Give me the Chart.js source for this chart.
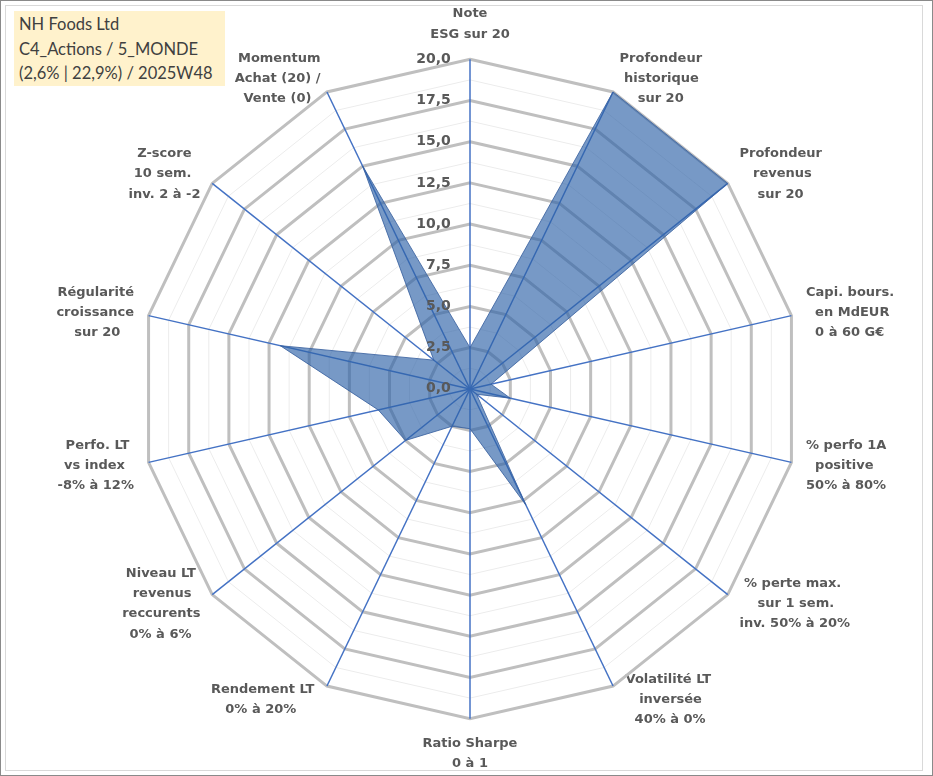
<!DOCTYPE html>
<html lang="fr">
<head>
    <meta charset="UTF-8">
    <title>NH Foods Ltd - radar</title>
    <style>
        * {
            margin: 0;
            padding: 0;
            box-sizing: border-box;
        }

        body {
            background-color: #fff;
            width: 933px;
            height: 776px;
            overflow: hidden;
        }

        .frame {
            position: relative;
            width: 933px;
            height: 776px;
            border: 1px solid #8a8a8a;
            background-color: #fff;
        }

        .inner {
            position: absolute;
            left: 4px;
            top: 4px;
            right: 9px;
            bottom: 4px;
            border: 1px solid #d9d9d9;
        }

        .chart-box {
            position: absolute;
            left: 0;
            top: 0;
            width: 931px;
            height: 774px;
        }

        .info {
            position: absolute;
            left: 13px;
            top: 10px;
            width: 211px;
            height: 75px;
            padding: 1px 0 0 5px;
            background-color: #fff2cc;
            color: #404040;
            font-family: 'Lato', sans-serif;
            font-size: 16.5px;
            line-height: 24.5px;
            white-space: nowrap;
        }
    </style>
</head>
<body>

    <div class="frame">
        <div class="inner"></div>
        <div class="chart-box">
            <canvas id="radarChart"></canvas>
        </div>
        <div class="info">
            NH Foods Ltd<br>
            C4_Actions / 5_MONDE<br>
            (2,6% | 22,9%) / 2025W48
        </div>
    </div>

    <script src="https://cdn.jsdelivr.net/npm/chart.js"></script>
    <script>
        // axes du radar, dans le sens horaire depuis le haut
        const axisLabels = [
            ['Note', 'ESG sur 20'],
            ['Profondeur', 'historique', 'sur 20'],
            ['Profondeur', 'revenus', 'sur 20'],
            ['Capi. bours.', 'en MdEUR', '0 à 60 G€'],
            ['% perfo 1A', 'positive', '50% à 80%'],
            ['% perte max.', 'sur 1 sem.', 'inv. 50% à 20%'],
            ['Volatilité LT', 'inversée', '40% à 0%'],
            ['Ratio Sharpe', '0 à 1'],
            ['Rendement LT', '0% à 20%'],
            ['Niveau LT', 'revenus', 'reccurents', '0% à 6%'],
            ['Perfo. LT', 'vs index', '-8% à 12%'],
            ['Régularité', 'croissance', 'sur 20'],
            ['Z-score', '10 sem.', 'inv. 2 à -2'],
            ['Momentum', 'Achat (20) /', 'Vente (0)']
        ];

        // notes sur 20
        const scores = [2.5, 20, 20, 1.3, 2.5, 0.5, 7.8, 2.4, 2.5, 5.0, 5.7, 11.8, 2.8, 15.0];

        // graduations
        const scaleMax = 20;
        const majorStep = 2.5;
        const minorStep = 1.25;

        const labelFont = { family: 'DejaVu Sans', size: 13, weight: 'bold', lineHeight: 1.55 };

        function isMajor(v) {
            return Math.abs(v / majorStep - Math.round(v / majorStep)) < 1e-6;
        }

        function tickText(v) {
            if (!isMajor(v)) return '';
            const txt = v.toFixed(1).replace('.', ',');
            // décale le libellé à gauche de l'axe vertical
            const pad = v >= 10 ? 15 : 13;
            return txt + ' '.repeat(pad);
        }

        // Chart.js aligne les lignes à gauche/droite : on les recentre avec des espaces
        function centeredLabels(list) {
            const m = document.createElement('canvas').getContext('2d');
            m.font = 'bold 13px "DejaVu Sans"';
            const sp = m.measureText(' ').width;
            const half = list.length / 2;
            return list.map((lines, i) => {
                if (i === 0 || i === half) return lines;
                const widths = lines.map(l => m.measureText(l).width);
                const maxW = Math.max(...widths);
                return lines.map((l, k) => {
                    const n = Math.round((maxW - widths[k]) / 2 / sp);
                    return i < half ? ' '.repeat(n) + l : l + ' '.repeat(n);
                });
            });
        }

        // libellés latéraux centrés verticalement sur l'extrémité de l'axe, comme Excel
        const labelCentering = {
            id: 'labelCentering',
            afterUpdate(chart) {
                const r = chart.scales.r;
                const items = r._pointLabelItems || [];
                const n = items.length;
                const half = n / 2;
                items.forEach((it, i) => {
                    if (i === 0 || i === half) return;
                    const h = it.bottom - it.top;
                    const dy = (i < 4 || i > n - 4) ? h / 2 : -h / 2;
                    it.y += dy;
                    it.top += dy;
                    it.bottom += dy;
                    // les deux libellés proches du bas s'écartent un peu de la pointe
                    if (i === half - 1 || i === half + 1) {
                        const dx = i < half ? 6 : -6;
                        it.x += dx;
                        it.left += dx;
                        it.right += dx;
                    }
                });
            }
        };

        const ctx = document.getElementById('radarChart').getContext('2d');
        new Chart(ctx, {
            type: 'radar',
            data: {
                labels: centeredLabels(axisLabels),
                datasets: [{
                    data: scores,
                    fill: true,
                    backgroundColor: 'rgba(46, 98, 168, 0.65)',
                    borderColor: 'rgba(58, 98, 160, 0.85)',
                    borderWidth: 1,
                    pointRadius: 0,
                    pointHoverRadius: 0,
                    tension: 0
                }]
            },
            options: {
                responsive: true,
                maintainAspectRatio: false,
                animation: false,
                layout: {
                    padding: { top: 3, bottom: 1, left: 18, right: 0 }
                },
                plugins: {
                    legend: { display: false },
                    tooltip: { enabled: false }
                },
                scales: {
                    r: {
                        min: -0.01,
                        max: scaleMax,
                        startAngle: 0,
                        angleLines: {
                            display: true,
                            color: '#4472c4',
                            lineWidth: 1.5
                        },
                        grid: {
                            circular: false,
                            color: c => {
                                const v = c.tick ? c.tick.value : 0;
                                if (v <= 0) return 'rgba(0,0,0,0)';
                                return isMajor(v) ? '#bfbfbf' : '#ececec';
                            },
                            lineWidth: c => {
                                const v = c.tick ? c.tick.value : 0;
                                return isMajor(v) ? 3 : 1;
                            }
                        },
                        ticks: {
                            stepSize: minorStep,
                            includeBounds: false,
                            showLabelBackdrop: false,
                            color: '#595959',
                            z: 1,
                            font: { family: 'DejaVu Sans', size: 14, weight: 'bold' },
                            callback: v => tickText(v)
                        },
                        pointLabels: {
                            color: '#595959',
                            padding: 6,
                            font: labelFont
                        }
                    }
                }
            },
            plugins: [labelCentering]
        });
    </script>
</body>
</html>
